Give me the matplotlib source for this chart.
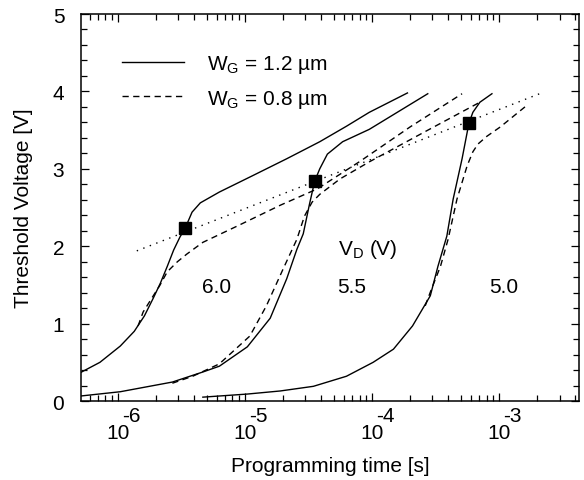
import numpy as np
import matplotlib
matplotlib.use("Agg")
import matplotlib.pyplot as plt
import matplotlib.transforms as mtransforms
from matplotlib.ticker import LogLocator, MultipleLocator, NullFormatter, FixedLocator, FixedFormatter

plt.rcParams["font.family"] = ["Liberation Sans", "DejaVu Sans"]
plt.rcParams["mathtext.fontset"] = "custom"
plt.rcParams["mathtext.rm"] = "Liberation Sans"
plt.rcParams["mathtext.it"] = "Liberation Sans:italic"

# log10(programming time [s]) and threshold voltage [V]
# V_D = 6.0 V
logt_60_w12 = [-6.29, -6.14, -5.98, -5.87, -5.79, -5.72, -5.665, -5.61, -5.56, -5.51, -5.47,
               -5.415, -5.35, -5.20, -4.94, -4.67, -4.41, -4.20, -4.02, -3.72]
vt_60_w12 = [0.37, 0.50, 0.71, 0.90, 1.10, 1.33, 1.52, 1.74, 1.95, 2.12, 2.23,
             2.44, 2.56, 2.70, 2.91, 3.13, 3.35, 3.55, 3.73, 3.98]
logt_60_w08 = [-5.84, -5.80, -5.72, -5.67, -5.61, -5.53, -5.455, -5.33, -5.06, -4.72,
               -4.43, -4.09, -3.70, -3.29]
vt_60_w08 = [0.97, 1.15, 1.36, 1.49, 1.67, 1.80, 1.90, 2.05, 2.26, 2.53,
             2.74, 3.10, 3.54, 3.97]

# V_D = 5.5 V
logt_55_w12 = [-6.29, -5.98, -5.57, -5.33, -5.20, -4.98, -4.80, -4.67, -4.59, -4.54,
               -4.49, -4.45, -4.41, -4.35, -4.23, -4.02, -3.56]
vt_55_w12 = [0.065, 0.12, 0.245, 0.375, 0.45, 0.70, 1.07, 1.58, 1.96, 2.16,
             2.55, 2.84, 3.00, 3.19, 3.35, 3.51, 3.97]
logt_55_w08 = [-5.57, -5.41, -5.20, -4.96, -4.83, -4.70, -4.59, -4.53, -4.47, -4.41,
               -4.25, -4.02, -3.57, -3.15]
vt_55_w08 = [0.23, 0.32, 0.48, 0.84, 1.23, 1.70, 2.09, 2.39, 2.57, 2.67,
             2.87, 3.09, 3.49, 3.86]

# V_D = 5.0 V
logt_50_w12 = [-5.33, -4.98, -4.72, -4.46, -4.20, -3.99, -3.83, -3.68, -3.54, -3.48,
               -3.41, -3.36, -3.29, -3.236, -3.205, -3.15, -3.055]
vt_50_w12 = [0.05, 0.09, 0.13, 0.19, 0.32, 0.50, 0.67, 0.97, 1.36, 1.74,
             2.13, 2.61, 3.13, 3.59, 3.73, 3.86, 3.97]
logt_50_w08 = [-3.58, -3.53, -3.46, -3.40, -3.33, -3.25, -3.205, -3.165, -3.095, -2.99, -2.795]
vt_50_w08 = [1.23, 1.45, 1.74, 2.09, 2.61, 3.04, 3.22, 3.32, 3.42, 3.54, 3.80]

# dotted guide line and the marked points on it
logt_guide = [-5.85, -2.68]
vt_guide = [1.94, 3.97]
logt_marks = [-5.47, -4.448, -3.236]
vt_marks = [2.23, 2.84, 3.59]

curve_labels = ["6.0", "5.5", "5.0"]
curve_label_logt = [-5.22, -4.16, -2.96]
curve_label_vt = [1.48, 1.48, 1.48]

decades = [-6, -5, -4, -3]

FS = 15

fig = plt.figure(figsize=(5.84, 4.81), dpi=100)
ax = fig.add_axes([0.1387, 0.1642, 0.8527, 0.8046])

solid = dict(color="black", lw=1.0, ls="-")
dashed = dict(color="black", lw=1.0, ls=(0, (4.5, 3.2)))

def tt(lt):
    return 10.0 ** np.asarray(lt)

ax.plot(tt(logt_60_w12), vt_60_w12, label=r"W$_{\rm G}$ = 1.2 µm", **solid)
ax.plot(tt(logt_60_w08), vt_60_w08, label=r"W$_{\rm G}$ = 0.8 µm", **dashed)
ax.plot(tt(logt_55_w12), vt_55_w12, **solid)
ax.plot(tt(logt_55_w08), vt_55_w08, **dashed)
ax.plot(tt(logt_50_w12), vt_50_w12, **solid)
ax.plot(tt(logt_50_w08), vt_50_w08, **dashed)
ax.plot(tt(logt_guide), vt_guide, color="black", lw=1.0, ls=(0, (1, 4)))
ax.plot(tt(logt_marks), vt_marks, ls="none", marker="s", ms=8.6, color="black")

for lab, lt, v in zip(curve_labels, curve_label_logt, curve_label_vt):
    ax.text(10 ** lt, v, lab, fontsize=FS, ha="center", va="center")
ax.text(10 ** -4.03, 1.97, r"V$_{\rm D}$ (V)", fontsize=FS, ha="center", va="center")

ax.set_xscale("log")
ax.set_xlim(10 ** -6.289, 10 ** -2.37)
ax.set_ylim(0, 5)

ax.xaxis.set_major_locator(FixedLocator([10.0 ** d for d in decades]))
ax.xaxis.set_major_formatter(FixedFormatter(["10"] * len(decades)))
ax.xaxis.set_minor_locator(LogLocator(base=10, subs=np.arange(2, 10), numticks=20))
ax.xaxis.set_minor_formatter(NullFormatter())
ax.yaxis.set_major_locator(MultipleLocator(1))
ax.yaxis.set_minor_locator(MultipleLocator(0.2))

ax.tick_params(which="both", direction="in", top=True, right=True, width=0.9)
ax.tick_params(which="major", length=6)
ax.tick_params(which="minor", length=4)
ax.tick_params(axis="x", which="major", labelsize=FS, pad=16)
ax.tick_params(axis="y", which="major", labelsize=FS, pad=12)
for sp in ax.spines.values():
    sp.set_linewidth(1.1)

trans = mtransforms.blended_transform_factory(ax.transData, ax.transAxes)
for d in decades:
    ax.annotate(str(d), xy=(10.0 ** d, 0), xycoords=trans, xytext=(10, -10.5),
                textcoords="offset points", ha="center", va="center", fontsize=FS)

ax.set_xlabel("Programming time [s]", fontsize=FS, labelpad=10)
ax.set_ylabel("Threshold Voltage [V]", fontsize=FS, labelpad=14)

ax.legend(loc="center left", bbox_to_anchor=(0.082, 0.826), frameon=False, fontsize=FS,
          handlelength=3.0, handletextpad=1.1, labelspacing=0.6, borderpad=0,
          borderaxespad=0)

fig.savefig("out.png", dpi=100)
